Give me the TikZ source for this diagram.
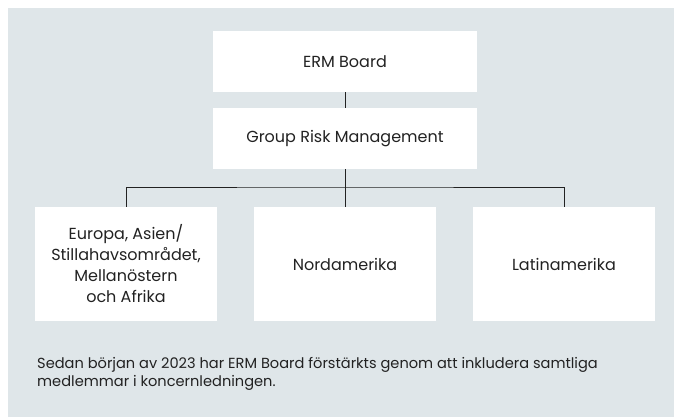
\documentclass[tikz,border=0pt]{standalone}
\usepackage{fontspec}
\setmainfont{Poppins}
\definecolor{panelgrey}{RGB}{223,230,233}
\definecolor{inkgrey}{RGB}{34,34,34}
\begin{document}
\begin{tikzpicture}[x=1pt,y=-1pt,
    unitbox/.style={fill=white, text=inkgrey, align=center, font=\fontsize{16}{21}\selectfont, inner sep=0pt},
    topbox/.style={unitbox, minimum width=264pt, minimum height=61pt},
    regionbox/.style={unitbox, minimum width=182pt, minimum height=114pt},
    link/.style={draw=inkgrey, line width=0.9pt}]

\useasboundingbox (0,0) rectangle (674,417);
\fill[panelgrey] (8,8) rectangle (674,417);

\node[topbox] (board) at (345,61.5) {ERM Board};
\node[topbox] (grm) at (345,138.5) {Group Risk Management};

\node[regionbox] (emea) at (126,264) {Europa, Asien/\\Stillahavsområdet,\\Mellanöstern\\och Afrika};
\node[regionbox] (nam) at (345,264) {Nordamerika};
\node[regionbox] (lam) at (564,264) {Latinamerika};

\coordinate (bus) at (345,187);

\draw[link] (board.south) -- (grm.north);
\draw[link] (grm.south) -- (nam.north);
\draw[link] (emea.north) |- (bus) -| (lam.north);

\node[anchor=north west, align=left, text=inkgrey, inner sep=0pt, font=\fontsize{14.6}{18}\selectfont] (note) at (37,357)
    {Sedan början av 2023 har ERM Board förstärkts genom att inkludera samtliga\\medlemmar i koncernledningen.};

\end{tikzpicture}
\end{document}
